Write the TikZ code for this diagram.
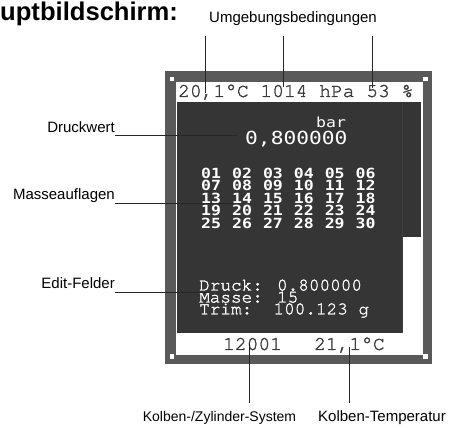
\documentclass[tikz,border=0pt]{standalone}
\usepackage{fontspec}
\setmainfont{Liberation Sans}
\newfontfamily\lcdserif{texgyrecursor-regular.otf}[FakeBold=1.6]
\newfontfamily\lcdsans{DejaVu Sans Mono}[FakeStretch=1.18]
\usepackage{tikz}
\usetikzlibrary{calc,positioning}
\definecolor{rahmen}{HTML}{595959}
\definecolor{lcddunkel}{HTML}{353535}
\definecolor{lcdtext}{HTML}{3A3A3A}
\tikzset{
  lbl/.style={inner sep=0pt,font=\fontsize{15}{15}\selectfont},
  leader/.style={draw=black!85,line width=0.7pt},
  lcdtxt/.style={inner sep=0pt,anchor=base west,text=white},
  lcdhell/.style={inner sep=0pt,anchor=base west,text=lcdtext},
}

\begin{document}
\begin{tikzpicture}[x=1pt,y=-1pt]
  \useasboundingbox (0,0) rectangle (451,428);
  % 标题
  \node[anchor=base west,inner sep=0pt,font=\fontsize{25.6}{25.6}\selectfont\bfseries] (titel) at (0,21) {uptbildschirm:};
  % 显示屏外框
  \fill[rahmen] (165,71) rectangle (432,364);
  \fill[white] (175.5,82) rectangle (422.5,355);
  \fill[lcddunkel] (177,102) rectangle (402,333.5);
  \fill[lcddunkel] (402,102) rectangle (421,237);
  \draw[black!75,line width=0.6pt] (402,102) -- (402,333.5);
  \foreach \x/\y in {172/79,425.5/79,172/356.5,425.5/356.5}
    \fill[white] (\x-2.3,\y-2.3) rectangle (\x+2.3,\y+2.3);
  % 第一行与最后一行
  \node[lcdhell,font=\lcdserif\fontsize{19.6}{19.6}\selectfont] (umwelt) at (178,97) {20,1°C 1014 hPa 53 \%};
  \node[lcdhell,font=\lcdserif\fontsize{19.6}{19.6}\selectfont] (system) at (223,350) {12001};
  \node[lcdhell,font=\lcdserif\fontsize{19.6}{19.6}\selectfont] (ktemp) at (314,350) {21,1°C};
  % 压力值
  \node[lcdtxt,font=\lcdsans\fontsize{14}{14}\selectfont] (einheit) at (316,128) {bar};
  \node[lcdtxt,font=\lcdsans\fontsize{18}{18}\selectfont] (druck) at (245,145) {0,800000};
  % 砝码编号
  \foreach \r in {0,...,4}{
    \foreach \c in {0,...,5}{
      \pgfmathtruncatemacro\nr{6*\r+\c+1}
      \node[lcdtxt,font=\lcdsans\bfseries\fontsize{14}{14}\selectfont] (m\nr) at (201+30.9*\c,178.3+12.5*\r) {\ifnum\nr<10 0\fi\nr};
    }
  }
  % 编辑栏
  \node[lcdtxt,font=\lcdserif\fontsize{17.7}{17.7}\selectfont] (fdruck) at (199,290.5) {Druck: 0.800000};
  \node[lcdtxt,font=\lcdserif\fontsize{17.7}{17.7}\selectfont] (fmasse) at (199,302.5) {Masse: 15};
  \node[lcdtxt,font=\lcdserif\fontsize{17.7}{17.7}\selectfont] (ftrim) at (199,314.3) {Trim:\ \ 100.123 g};
  % 标注
  \node[lbl,anchor=base] (umgeb) at (293,23) {Umgebungsbedingungen};
  \foreach \x/\y [count=\i] in {205/93,283/87,372/88}{
    \coordinate (uo\i) at (\x,36);
    \coordinate (uu\i) at (\x,\y);
    \draw[leader] (uo\i) -- (uu\i);
  }
  \node[lbl,anchor=base east] (ldruck) at (115,133) {Druckwert};
  \coordinate (zdruck) at (237,135.5);
  \draw[leader] (ldruck.base east |- zdruck) -- (zdruck);
  \node[lbl,anchor=base east] (lmasse) at (115,200) {Masseauflagen};
  \coordinate (zmasse) at (233,203);
  \draw[leader] (lmasse.base east |- zmasse) -- (zmasse);
  \node[lbl,anchor=base east] (ledit) at (115,288.3) {Edit-Felder};
  \coordinate (zedit) at (210,292);
  \draw[leader] (ledit.base east |- zedit) -- (zedit);
  \node[lbl,anchor=base,font=\fontsize{14}{14}\selectfont] (lsystem) at (219.5,421) {Kolben-/Zylinder-System};
  \coordinate (zsystem) at (249,343);
  \draw[leader] (zsystem) -- (249,403);
  \node[lbl,anchor=base] (ltemp) at (382,421) {Kolben-Temperatur};
  \coordinate (ztemp) at (349,347);
  \draw[leader] (ztemp) -- (349,403);
\end{tikzpicture}
\end{document}
